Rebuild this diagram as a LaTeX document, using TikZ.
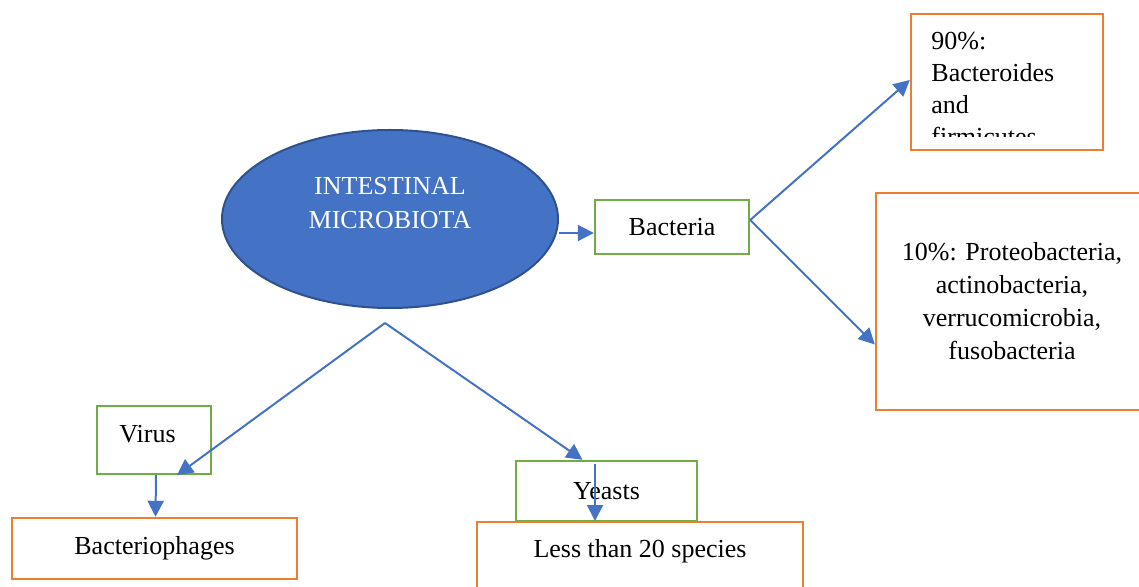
\documentclass[tikz,border=0pt]{standalone}
\usepackage{fontspec}
\setmainfont{Liberation Serif}
\usetikzlibrary{arrows.meta, shapes.geometric}
\definecolor{msblue}{HTML}{4472C4}
\definecolor{msblueline}{HTML}{2F528F}
\definecolor{msgreen}{HTML}{70AD47}
\definecolor{msorange}{HTML}{ED7D31}

\begin{document}
\begin{tikzpicture}[x=0.5pt, y=-0.5pt,
  font=\fontsize{13}{16.25}\selectfont,
  greenbox/.style={draw=msgreen, line width=1.2pt, fill=white, inner sep=0pt},
  orangebox/.style={draw=msorange, line width=1.2pt, fill=white, inner sep=0pt},
  link/.style={draw=msblue, line width=1pt, -{Triangle[length=8pt, width=8pt]}}]
  \clip (0,0) rectangle (1139,587);
  % centre
  \node[ellipse, draw=msblueline, fill=msblue, line width=1pt,
        minimum width=168pt, minimum height=89pt] (micro) at (390,219) {};
  \node[text=white, align=center, font=\fontsize{13}{17}\selectfont]
        (microtxt) at (390,203) {INTESTINAL\\MICROBIOTA};
  % bacteria branch
  \node[greenbox, minimum width=77pt, minimum height=27pt] (bact) at (672,227) {Bacteria};
  \node[orangebox, minimum width=96pt, minimum height=68pt] (ninety) at (1007,82) {};
  \begin{scope}
    \clip (911,14) rectangle (1103,137);
    \node[anchor=north west, inner sep=0pt, align=left, font=\fontsize{13}{16}\selectfont]
          (ninetytxt) at (931,32) {90\%:\\Bacteroides\\and\\firmicutes};
  \end{scope}
  \node[orangebox, minimum width=136pt, minimum height=108.5pt, align=center,
        font=\fontsize{13}{16.5}\selectfont] (ten) at (1012,301.5)
        {10\%: Proteobacteria,\\actinobacteria,\\verrucomicrobia,\\fusobacteria};
  % virus and yeasts
  \coordinate (apex) at (385,323);
  \node[greenbox, minimum width=57pt, minimum height=34pt] (virus) at (154,440) {};
  \node[inner sep=0pt, anchor=base west] (virustxt) at (119,442) {Virus};
  \node[orangebox, minimum width=142.5pt, minimum height=30.5pt] (phages) at (154.5,548.5) {Bacteriophages};
  \node[greenbox, minimum width=90.5pt, minimum height=30pt] (yeasts) at (606.5,491) {Yeasts};
  \node[orangebox, minimum width=163pt, minimum height=40pt, anchor=north] (less) at (640,521) {};
  \node[inner sep=0pt, anchor=base] (lesstxt) at (640,557) {Less than 20 species};
  % connectors
  \path ([yshift=-3pt]bact.west) coordinate (bactin);
  \draw[link] (bactin -| micro.east) -- (bactin);
  \path ([yshift=3.5pt]bact.east) coordinate (fork);
  \draw[link] (fork) -- ([yshift=1pt]ninety.west);
  \draw[link] (fork) -- ([yshift=-21.5pt]ten.west);
  \draw[link] (apex) -- ([xshift=11.5pt]virus.south);
  \draw[link] (apex) -- ([xshift=-12pt]yeasts.north);
  \draw[link] ([xshift=1pt]virus.south) -- ([xshift=0.5pt]phages.north);
  \path ([xshift=-5.75pt, yshift=-2pt]yeasts.north) coordinate (yin);
  \draw[link] (yin) -- (yin |- less.north);
\end{tikzpicture}
\end{document}
